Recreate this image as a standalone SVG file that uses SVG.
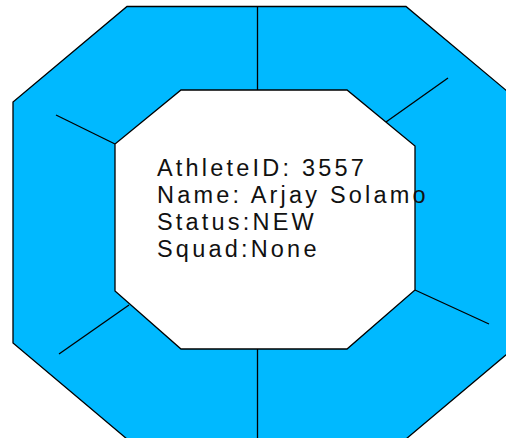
<svg xmlns="http://www.w3.org/2000/svg" width="506" height="438" viewBox="0 0 506 438">
<style>
.ring{fill:#00B9FF;stroke:#000;stroke-width:1.3}
.hole{fill:#fff;stroke:#000;stroke-width:1.3}
.spoke{stroke:#000;stroke-width:1.3;fill:none}
.lbl{font-family:"Liberation Sans",Arial,sans-serif;font-size:23.5px;letter-spacing:3.2px;fill:#111}
</style>
<rect width="506" height="438" fill="#fff"/>
<g id="athlete">
<polygon class="ring" points="127,6.5 406,6.5 520,102 520,343 406,439 127,439 13,343 13,102"/>
<polygon class="hole" points="181,90 347,90 415,146 415,290 347,349 181,349 115,291 115,144"/>
<text class="lbl" x="157" y="176">AthleteID: 3557</text>
<text class="lbl" x="157" y="203">Name: Arjay Solamo</text>
<text class="lbl" x="157" y="230">Status:NEW</text>
<text class="lbl" x="157" y="257">Squad:None</text>
</g>
<g id="connectors">
<line class="spoke" x1="257.5" y1="6.5" x2="257.5" y2="90"/>
<line class="spoke" x1="257.5" y1="349" x2="257.5" y2="438"/>
<line class="spoke" x1="56" y1="115" x2="115" y2="144"/>
<line class="spoke" x1="386" y1="122" x2="448" y2="78"/>
<line class="spoke" x1="129" y1="305" x2="59" y2="354"/>
<line class="spoke" x1="415" y1="290" x2="489" y2="324"/>
</g>
</svg>
